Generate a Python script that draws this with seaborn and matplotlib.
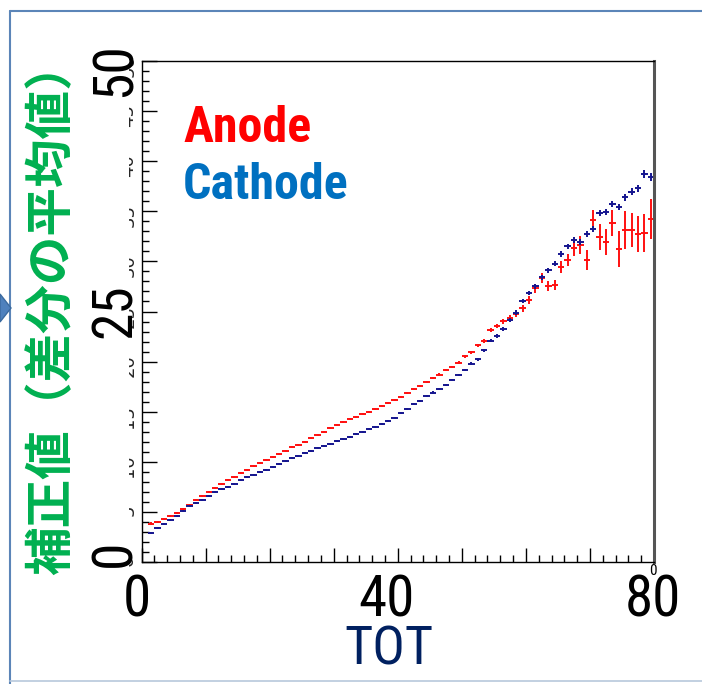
import numpy as np
import pandas as pd
import matplotlib
matplotlib.use("Agg")
import matplotlib.pyplot as plt
from matplotlib import font_manager
from matplotlib.patches import Rectangle, Polygon
from matplotlib.lines import Line2D
import seaborn as sns

tot = np.arange(1.5, 80.0, 1.0)
anode = [3.8, 3.95, 4.25, 4.6, 4.9, 5.3, 5.7, 6.15, 6.55, 7.0,
         7.35, 7.75, 8.15, 8.5, 8.85, 9.2, 9.55, 9.9, 10.2, 10.45,
         10.8, 11.1, 11.45, 11.7, 12.0, 12.35, 12.7, 13.0, 13.35, 13.7,
         14.0, 14.25, 14.5, 14.75, 15.0, 15.3, 15.55, 15.85, 16.2, 16.5,
         16.9, 17.3, 17.55, 17.95, 18.35, 18.7, 19.15, 19.45, 19.9, 20.55,
         20.95, 21.65, 22.1, 23.2, 23.6, 24.05, 24.4, 24.8, 25.3, 26.15,
         27.3, 28.3, 27.55, 27.65, 29.4, 30.15, 31.3, 31.65, 30.1, 34.1,
         32.4, 31.9, 33.8, 31.2, 33.1, 33.1, 32.75, 32.85, 34.2]
cathode = [2.9, 3.4, 3.8, 4.2, 4.6, 5.1, 5.55, 5.85, 6.2, 6.6,
           7.0, 7.25, 7.5, 7.8, 8.15, 8.45, 8.7, 8.95, 9.2, 9.5,
           9.8, 10.05, 10.35, 10.6, 10.9, 11.1, 11.35, 11.55, 11.8, 12.05,
           12.3, 12.5, 12.75, 13.0, 13.25, 13.5, 13.8, 14.1, 14.4, 14.85,
           15.3, 15.75, 16.05, 16.55, 16.9, 17.25, 17.65, 18.15, 18.65, 19.15,
           19.8, 20.25, 21.15, 22.1, 22.55, 23.25, 24.2, 24.9, 26.0, 26.8,
           27.5, 28.4, 29.1, 29.75, 30.75, 31.5, 32.15, 31.95, 32.75, 33.2,
           34.85, 34.95, 35.7, 35.45, 36.4, 36.95, 37.3, 38.7, 38.4]

anode_err = [0.15, 0.1, 0.1, 0.1, 0.1, 0.1, 0.1, 0.1, 0.1, 0.1,
             0.1, 0.1, 0.1, 0.1, 0.1, 0.1, 0.1, 0.1, 0.1, 0.1,
             0.1, 0.1, 0.1, 0.1, 0.1, 0.1, 0.1, 0.1, 0.1, 0.1,
             0.1, 0.1, 0.1, 0.1, 0.1, 0.1, 0.1, 0.1, 0.1, 0.1,
             0.1, 0.1, 0.1, 0.1, 0.12, 0.12, 0.12, 0.12, 0.15, 0.15,
             0.15, 0.15, 0.2, 0.2, 0.2, 0.25, 0.3, 0.3, 0.35, 0.4,
             0.45, 0.5, 0.5, 0.5, 0.6, 0.6, 0.8, 0.9, 1.0, 1.0,
             1.3, 1.3, 1.3, 1.8, 1.9, 1.7, 1.8, 1.9, 2.0]
cathode_err = [0.1, 0.1, 0.1, 0.1, 0.1, 0.1, 0.1, 0.1, 0.1, 0.1,
               0.1, 0.1, 0.1, 0.1, 0.1, 0.1, 0.1, 0.1, 0.1, 0.1,
               0.1, 0.1, 0.1, 0.1, 0.1, 0.1, 0.1, 0.1, 0.1, 0.1,
               0.1, 0.1, 0.1, 0.1, 0.1, 0.1, 0.1, 0.1, 0.1, 0.1,
               0.1, 0.1, 0.1, 0.1, 0.12, 0.12, 0.12, 0.12, 0.12, 0.12,
               0.15, 0.15, 0.15, 0.15, 0.18, 0.18, 0.2, 0.2, 0.2, 0.2,
               0.22, 0.25, 0.25, 0.25, 0.28, 0.28, 0.28, 0.3, 0.3, 0.3,
               0.32, 0.32, 0.32, 0.32, 0.35, 0.35, 0.35, 0.38, 0.38]

df = pd.DataFrame({
    "TOT": np.concatenate([tot, tot]),
    "value": anode + cathode,
    "err": anode_err + cathode_err,
    "electrode": ["Anode"] * len(tot) + ["Cathode"] * len(tot),
})
colors = {"Anode": "#ff1010", "Cathode": "#15158f"}

sns.set_theme(style="white")
plt.rcParams["font.family"] = ["DejaVu Sans"]

# pick a narrow face if one is installed
installed = {(f.name, f.stretch) for f in font_manager.fontManager.ttflist}
narrow_family, narrow_stretch, shrink = "Liberation Sans", "normal", 0.86
for fam, st in [("Liberation Sans Narrow", "condensed"), ("Roboto Condensed", "normal"),
                ("DejaVu Sans", "condensed"), ("Noto Sans", "condensed"),
                ("Noto Sans", "semi-condensed"), ("Open Sans", "condensed"),
                ("Roboto", "condensed")]:
    if any(n == fam and (st == "normal" or s == st) for n, s in installed):
        narrow_family, narrow_stretch, shrink = fam, st, 1.0
        break
narrow = [narrow_family, "DejaVu Sans"]

W, H = 702, 684
fig = plt.figure(figsize=(W / 100, H / 100), dpi=100)


def fx(px):
    return px / W


def fy(py):
    return 1 - py / H


ax = fig.add_axes([fx(141.5), fy(562), fx(654) - fx(141.5), fy(61) - fy(562)])

for name in ["Anode", "Cathode"]:
    sub = df[df["electrode"] == name]
    ax.errorbar(sub["TOT"], sub["value"], xerr=0.5, yerr=sub["err"],
                fmt="none", ecolor=colors[name], elinewidth=1.4, capsize=0)

ax.set_xlim(0, 80)
ax.set_ylim(0, 50)
ax.set_xticks(np.arange(0, 81, 10))
ax.set_xticks(np.arange(0, 81, 2), minor=True)
ax.set_yticks(np.arange(0, 51, 5))
ax.set_yticks(np.arange(0, 51, 1), minor=True)
ax.set_yticklabels([str(v) for v in range(0, 51, 5)], rotation=90, fontsize=13)
ax.tick_params(axis="x", which="major", direction="in", length=10, width=1,
               color="black", labelbottom=False, bottom=True)
ax.tick_params(axis="x", which="minor", direction="in", length=5, width=1,
               color="black", bottom=True)
ax.tick_params(axis="y", which="major", direction="in", length=11, width=1,
               color="black", left=True, pad=3)
ax.tick_params(axis="y", which="minor", direction="in", length=5, width=1,
               color="black", left=True)
for side in ["left", "bottom", "top"]:
    ax.spines[side].set_color("black")
    ax.spines[side].set_linewidth(1.0)
ax.spines["right"].set_color("#555555")
ax.spines["right"].set_linewidth(2.2)

# white box hiding most of the original tick labels
fig.patches.append(Rectangle((fx(78), fy(585)), fx(129) - fx(78), fy(35) - fy(585),
                             transform=fig.transFigure, facecolor="white",
                             edgecolor="none", zorder=5))

txt_kw = dict(family=narrow, fontstretch=narrow_stretch, zorder=6)

for txt, yy in [("0", 553), ("25", 311), ("50", 70)]:
    fig.text(fx(115), fy(yy), txt, rotation=90, fontsize=40 * shrink,
             ha="center", va="center", color="black", **txt_kw)
for txt, xx in [("0", 137), ("40", 387), ("80", 653)]:
    fig.text(fx(xx), fy(601), txt, fontsize=41 * shrink,
             ha="center", va="center", color="black", **txt_kw)
fig.text(fx(653), fy(571), "0", fontsize=11, ha="center", va="center",
         color="black", **txt_kw)
fig.text(fx(389), fy(650), "TOT", fontsize=39 * shrink, ha="center", va="center",
         color="#002060", **txt_kw)

fig.text(fx(52), fy(308), "補正値（差分の平均値）", rotation=90, fontsize=35,
         family=["Noto Sans CJK JP", "DejaVu Sans"], fontweight="bold",
         ha="center", va="center", color="#00b050", zorder=6)

fig.text(fx(183), fy(142), "Anode", fontsize=36 * shrink, fontweight="bold",
         color="#ff0000", ha="left", va="baseline", **txt_kw)
fig.text(fx(183), fy(199), "Cathode", fontsize=36 * shrink, fontweight="bold",
         color="#0070c0", ha="left", va="baseline", **txt_kw)

# slide frame and arrow
fig.lines.append(Line2D([fx(10), fx(10)], [fy(11), fy(684)], transform=fig.transFigure,
                        color="#5b85b8", lw=1.5))
fig.lines.append(Line2D([fx(10), fx(702)], [fy(11), fy(11)], transform=fig.transFigure,
                        color="#5b85b8", lw=1.5))
fig.lines.append(Line2D([fx(10), fx(702)], [fy(681), fy(681)], transform=fig.transFigure,
                        color="#b8c8dc", lw=1.2))
fig.patches.append(Polygon([[fx(0), fy(294)], [fx(11), fy(308)], [fx(0), fy(322)]],
                           closed=True, transform=fig.transFigure,
                           facecolor="#4f81bd", edgecolor="#3a6a9f", zorder=7))

fig.savefig("out.png", dpi=100)
